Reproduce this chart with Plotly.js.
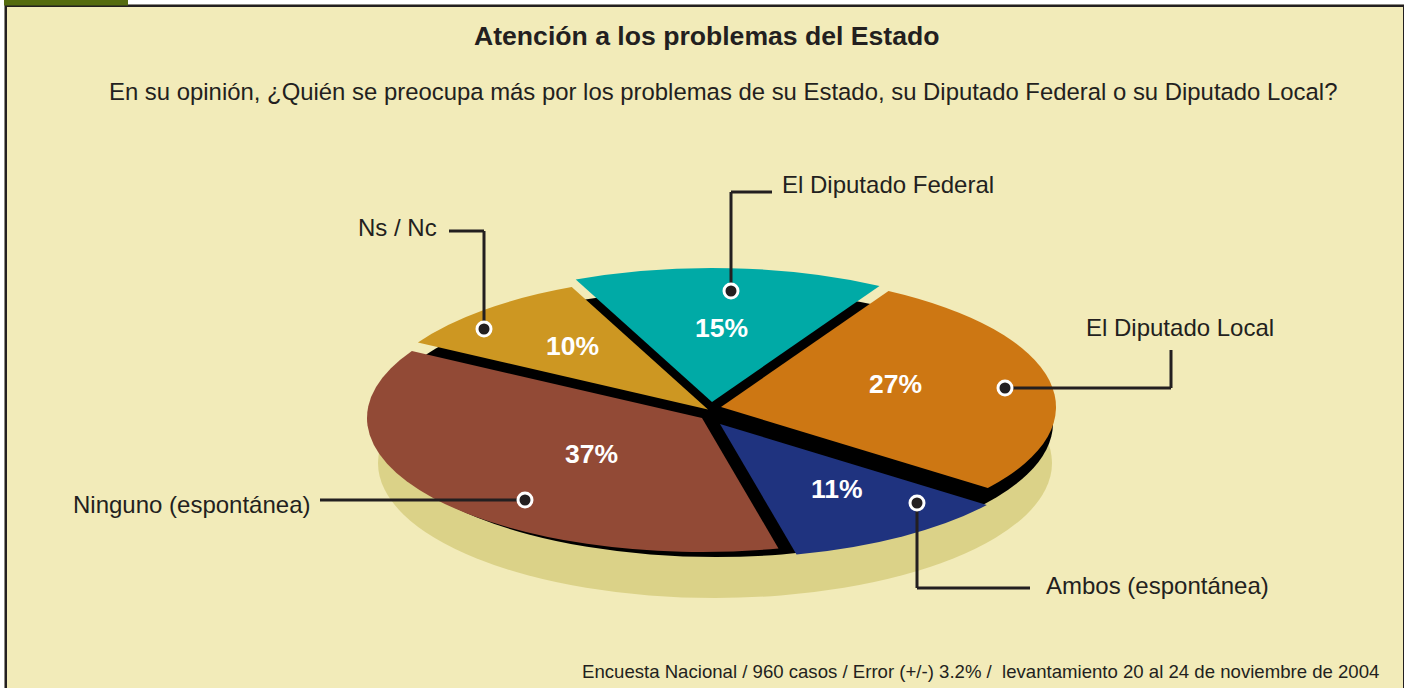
<!DOCTYPE html>
<html>
<head>
<meta charset="utf-8">
<script src="https://cdn.plot.ly/plotly-3.0.1.min.js"></script>
<style>html,body{margin:0;padding:0;background:#fff;overflow:hidden}#chart{width:1404px;height:688px}</style>
</head>
<body>
<div id="chart"></div>
<script>
// Data
const categories = ["El Diputado Federal", "El Diputado Local", "Ambos (espontánea)", "Ninguno (espontánea)", "Ns / Nc"];
const shareValues = [15, 27, 11, 37, 10];
const sliceColors = ["#00aaa6", "#cd7713", "#1f337f", "#924a36", "#cd9722"];
const titleText = "Atención a los problemas del Estado";
const questionText = "En su opinión, ¿Quién se preocupa más por los problemas de su Estado, su Diputado Federal o su Diputado Local?";
const noteText = "Encuesta Nacional / 960 casos / Error (+/-) 3.2% /  levantamiento 20 al 24 de noviembre de 2004";

// Style and placement (pixels)
const W = 1404, H = 688;
const fx = x => x / W, fy = y => 1 - y / H;
const INK = "#231f20", BG = "#f2ebb9";
const RX = 335, RY = 134;
const sliceApex = [[712,402],[721,407],[720,424],[702,418],[708,409.5]];
const percentAt = [[721,328],[895,384],[837,489],[591,454],[572,346]];
const labelAt = [
  [781,185,"left"],[1085,327,"left"],[1045,585,"left"],[72,504,"left"],[357,228,"left"]
];
const dotAt = [[731,291],[1005,388],[917,503],[525,500],[484,329]];
const leaders = [
  [[772,192],[731,192],[731,291]],
  [[1171,350],[1171,388],[1005,388]],
  [[1030,588],[917,588],[917,503]],
  [[320,500],[525,500]],
  [[449,231],[484,231],[484,329]]
];

const base = {type:"pie", sort:false, direction:"clockwise", textinfo:"none", hoverinfo:"skip",
  showlegend:false, domain:{x:[0,1], y:[0,1]}};
const traces = [
  Object.assign({}, base, {values:[1], labels:["sombra"], marker:{colors:["#dbd288"], line:{width:0}}}),
  Object.assign({}, base, {values:[1], labels:["base"], marker:{colors:["#000000"], line:{width:0}}}),
  Object.assign({}, base, {values:shareValues, labels:categories, rotation:-24,
    marker:{colors:sliceColors, line:{width:0}}})
];

const rect = (x0,y0,x1,y1,fill,layer) => ({type:"rect", xref:"paper", yref:"paper", x0:fx(x0), x1:fx(x1), y0:fy(y0), y1:fy(y1),
  fillcolor:fill, line:{width:0}, layer:layer||"below"});
const seg = (a,b) => ({type:"line", xref:"paper", yref:"paper", x0:fx(a[0]), y0:fy(a[1]), x1:fx(b[0]), y1:fy(b[1]),
  line:{color:INK, width:3}, layer:"above"});

const shapes = [
  rect(4,4,1404,688,"#8c8a84"),
  rect(5,5,1404,688,INK),
  rect(7,7,1403,688,BG),
  rect(4,0,128,5.5,"#556b0f")
];
leaders.forEach(p => { for (let i=0;i<p.length-1;i++) shapes.push(seg(p[i],p[i+1])); });
dotAt.forEach(d => shapes.push({type:"circle", xref:"paper", yref:"paper",
  x0:fx(d[0]-7), x1:fx(d[0]+7), y0:fy(d[1]+7), y1:fy(d[1]-7),
  fillcolor:INK, line:{color:"#ffffff", width:3}, layer:"above"}));

const ann = (x,y,text,size,opts) => Object.assign({xref:"paper", yref:"paper", x:fx(x), y:fy(y), text:text, showarrow:false,
  xanchor:"center", yanchor:"middle", align:"center", borderpad:0, font:{family:"Liberation Sans, Arial, sans-serif", size:size, color:INK}}, opts||{});
const annotations = [
  ann(707,36,"<b>"+titleText+"</b>",26.6),
  ann(722.5,91.5,questionText,23.9),
  ann(1380,671,noteText,18.6,{xanchor:"right"})
];
categories.forEach((c,i) => annotations.push(ann(labelAt[i][0],labelAt[i][1],c,24,{xanchor:labelAt[i][2]})));
shareValues.forEach((v,i) => annotations.push(ann(percentAt[i][0],percentAt[i][1],"<b>"+v+"%</b>",26.5,
  {font:{family:"Liberation Sans, Arial, sans-serif", size:26.5, color:"#ffffff"}})));

const layout = {width:W, height:H, margin:{l:0,r:0,t:0,b:0,pad:0}, paper_bgcolor:"#ffffff", plot_bgcolor:"#ffffff",
  showlegend:false, shapes:shapes, annotations:annotations};

const gd = document.getElementById("chart");
Plotly.newPlot(gd, traces, layout, {staticPlot:true, displayModeBar:false}).then(() => {
  // The pie is tilted: each slice's circle is squashed into an ellipse about its own apex.
  const layers = [ [[715,463]], [[716,423]], sliceApex ];
  const radii = [ [337,135], [337,134], [RX,RY] ];
  gd.querySelectorAll(".pielayer .trace").forEach((tr,t) => {
    const c = gd.calcdata[t][0];
    tr.querySelectorAll(".slice").forEach((s,i) => {
      const a = layers[t][i];
      s.setAttribute("transform", "translate("+a[0]+","+a[1]+") scale("+(radii[t][0]/c.r)+","+(radii[t][1]/c.r)+") translate("+(-c.cx)+","+(-c.cy)+")");
    });
  });
});
</script>
</body>
</html>
